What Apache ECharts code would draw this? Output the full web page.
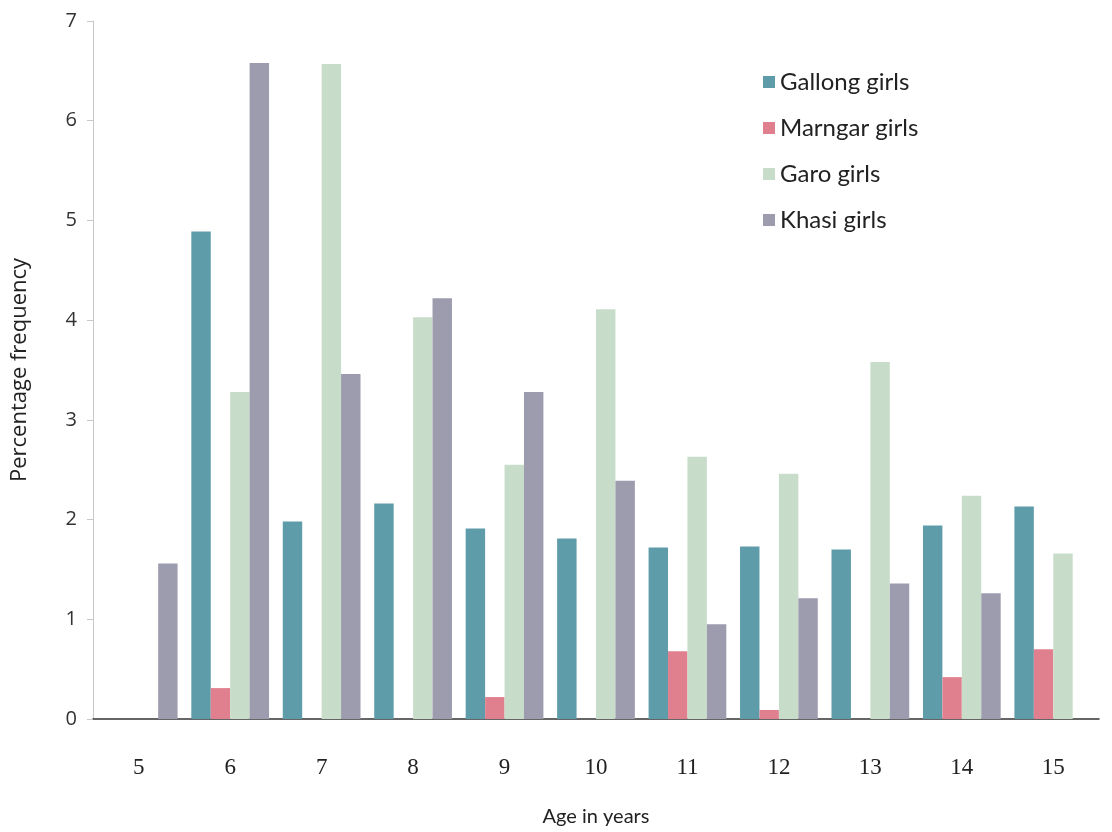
<!DOCTYPE html>
<html>
<head>
<meta charset="utf-8">
<script src="https://cdn.jsdelivr.net/npm/echarts@6/dist/echarts.min.js"></script>
<style>
html,body{margin:0;padding:0;background:#fff;}
#chart{width:1112px;height:832px;}
</style>
</head>
<body>
<div id="chart"></div>
<script>
const ages = ['5','6','7','8','9','10','11','12','13','14','15'];
const seriesNames = ['Gallong girls','Marngar girls','Garo girls','Khasi girls'];
const gallong = [0, 4.89, 1.98, 2.16, 1.91, 1.81, 1.72, 1.73, 1.70, 1.94, 2.13];
const marngar = [0, 0.31, 0, 0, 0.22, 0, 0.68, 0.09, 0, 0.42, 0.70];
const garo    = [0, 3.28, 6.57, 4.03, 2.55, 4.11, 2.63, 2.46, 3.58, 2.24, 1.66];
const khasi   = [1.56, 6.58, 3.46, 4.22, 3.28, 2.39, 0.95, 1.21, 1.36, 1.26, 0];
const yTicks = [0,1,2,3,4,5,6,7];

const colors = ['#5e9ca9', '#e0808f', '#c8ddc9', '#9d9cae'];
const values = [gallong, marngar, garo, khasi];

const chart = echarts.init(document.getElementById('chart'), null, {renderer:'canvas'});
chart.setOption({
  animation:false,
  color: colors,
  grid:{left:93, right:13, top:21, bottom:108},
  legend:{
    orient:'vertical',
    left:758, top:65,
    itemWidth:12, itemHeight:12, itemGap:22,
    icon:'rect',
    textStyle:{fontFamily:'Lato', fontSize:24, color:'#222'},
    data: seriesNames
  },
  xAxis:{
    type:'category',
    data: ages,
    name:'Age in years',
    nameLocation:'middle',
    nameGap:88,
    nameTextStyle:{fontFamily:'Lato', fontSize:20, color:'#222'},
    axisLine:{lineStyle:{color:'#333', width:1.5}},
    axisTick:{alignWithLabel:true, length:5, lineStyle:{color:'#333'}},
    axisLabel:{fontFamily:'Liberation Serif', fontSize:23, color:'#222', margin:37}
  },
  yAxis:{
    type:'value',
    min:0, max:7, interval:1,
    name:'Percentage frequency',
    nameLocation:'middle',
    nameGap:62,
    nameTextStyle:{fontFamily:'Open Sans', fontSize:22, color:'#222'},
    axisLine:{show:true, lineStyle:{color:'#c8c8c8', width:1}},
    axisTick:{show:true, length:6, lineStyle:{color:'#c8c8c8'}},
    splitLine:{show:false},
    axisLabel:{fontFamily:'Open Sans', fontSize:20, color:'#333', margin:16,
      formatter: v => yTicks.includes(v) ? String(v) : ''}
  },
  series: seriesNames.map((n,i)=>({
    name:n, type:'bar', data: values[i],
    barGap:'0%', barCategoryGap:'15%',
    itemStyle:{color:colors[i]}
  }))
});
</script>
</body>
</html>
